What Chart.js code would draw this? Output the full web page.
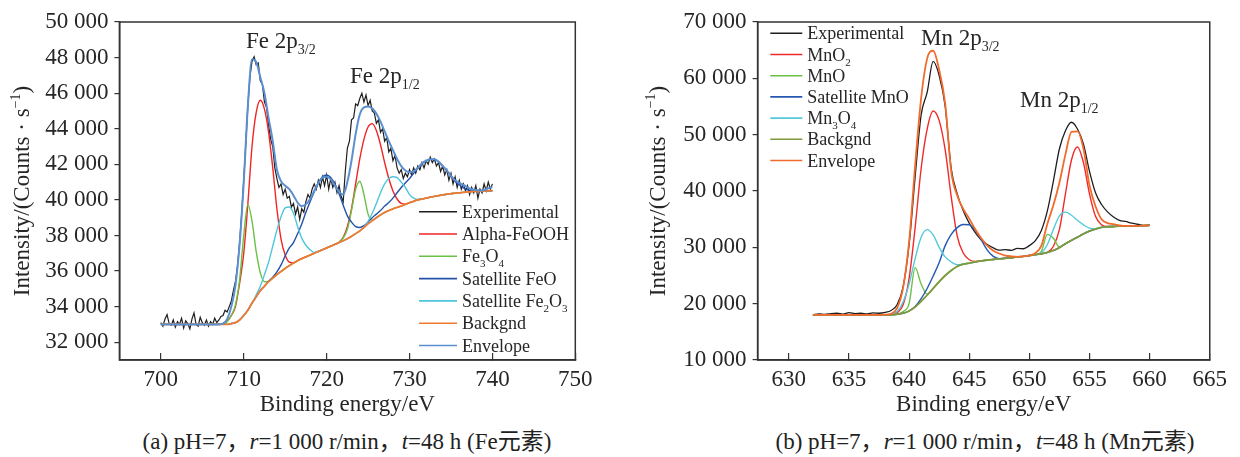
<!DOCTYPE html>
<html>
<head>
<meta charset="utf-8">
<script src="https://cdn.jsdelivr.net/npm/chart.js@4.4.0/dist/chart.umd.min.js"></script>
<style>
  html, body { margin: 0; padding: 0; background: #fff; }
  #wrap { position: relative; width: 1240px; height: 457px; overflow: hidden; }
  canvas { position: absolute; top: 0; }
  .cap { position: absolute; top: 428px; line-height: 27px; font-size: 23px; color: #222;
         font-family: "Liberation Serif", "Noto Sans CJK SC", serif; white-space: nowrap; transform: translateX(-50%); }
</style>
</head>
<body>
<div id="wrap">
  <canvas id="fe" width="620" height="420" style="left:0"></canvas>
  <canvas id="mn" width="620" height="420" style="left:620px"></canvas>
  <div class="cap" style="left:347px">(a) pH=7，<i>r</i>=1 000 r/min，<i>t</i>=48 h (Fe元素)</div>
  <div class="cap" style="left:985px">(b) pH=7，<i>r</i>=1 000 r/min，<i>t</i>=48 h (Mn元素)</div>
</div>
<script>
// ---------- Fe 2p (left) ----------
const feXTicks = [700, 710, 720, 730, 740, 750];
const feYTicks = [32000, 34000, 36000, 38000, 40000, 42000, 44000, 46000, 48000, 50000];

// fitted curves sampled every 0.5 eV from 700 to 740
const feBackgnd = [
  33000, 33000, 33000, 33000, 33000, 33000, 33000, 33000, 33000, 33000,
  33000, 33000, 33000, 33000, 33000, 33000, 33000, 33050, 33100, 33250,
  33500, 33800, 34200, 34550, 34900, 35150, 35400, 35600, 35800, 35980,
  36150, 36300, 36450, 36580, 36700, 36800, 36900, 37000, 37100, 37200,
  37300, 37400, 37500, 37600, 37700, 37820, 37950, 38100, 38250, 38450,
  38650, 38820, 39000, 39150, 39300, 39400, 39500, 39580, 39650, 39750,
  39850, 39920, 40000, 40050, 40100, 40150, 40200, 40240, 40280, 40320,
  40350, 40380, 40400, 40420, 40450, 40470, 40480, 40490, 40500, 40510,
  40520];
const feAlpha = [
  33000, 33000, 33000, 33000, 33000, 33000, 33000, 33000, 33000, 33000,
  33000, 33000, 33000, 33000, 33000, 33050, 33200, 33500, 34000, 35300,
  37000, 39800, 43000, 44900, 45600, 45100, 43800, 41800, 39500, 37800,
  36900, 36500, 36450, 36580, 36700, 36800, 36900, 37000, 37100, 37200,
  37300, 37400, 37500, 37620, 37900, 38500, 39500, 40900, 42300, 43400,
  44100, 44290, 43900, 43100, 42100, 41200, 40500, 40050, 39800, 39760,
  39850, 39920, 40000, 40050, 40100, 40150, 40200, 40240, 40280, 40320,
  40350, 40380, 40400, 40420, 40450, 40470, 40480, 40490, 40500, 40510,
  40520];
const feFe3O4 = [
  33000, 33000, 33000, 33000, 33000, 33000, 33000, 33000, 33000, 33000,
  33000, 33000, 33000, 33000, 33000, 33020, 33150, 33500, 34100, 35500,
  38000, 39750, 38800, 37100, 35900, 35400, 35420, 35600, 35800, 35980,
  36150, 36300, 36450, 36580, 36700, 36800, 36900, 37000, 37100, 37200,
  37300, 37400, 37500, 37620, 37850, 38350, 39400, 40600, 41050, 40300,
  39200, 38850, 39000, 39150, 39300, 39400, 39500, 39580, 39650, 39750,
  39850, 39920, 40000, 40050, 40100, 40150, 40200, 40240, 40280, 40320,
  40350, 40380, 40400, 40420, 40450, 40470, 40480, 40490, 40500, 40510,
  40520];
const feSatFeO = [
  33000, 33000, 33000, 33000, 33000, 33000, 33000, 33000, 33000, 33000,
  33000, 33000, 33000, 33000, 33000, 33000, 33000, 33050, 33100, 33250,
  33500, 33800, 34200, 34550, 34900, 35150, 35420, 35650, 35950, 36350,
  36850, 37300, 37600, 38100, 38650, 39300, 39900, 40450, 40950, 41300,
  41400, 41250, 40900, 40350, 39700, 39100, 38750, 38500, 38450, 38550,
  38750, 39000, 39200, 39400, 39650, 39850, 40100, 40400, 40700, 40950,
  41200, 41500, 41800, 42050, 42200, 42280, 42270, 42150, 41900, 41650,
  41350, 41050, 40850, 40680, 40570, 40510, 40490, 40490, 40500, 40510,
  40520];
const feSatFe2O3 = [
  33000, 33000, 33000, 33000, 33000, 33000, 33000, 33000, 33000, 33000,
  33000, 33000, 33000, 33000, 33000, 33000, 33000, 33050, 33100, 33250,
  33500, 33800, 34200, 34650, 35150, 35800, 36500, 37400, 38300, 39050,
  39550, 39600, 39250, 38500, 37850, 37450, 37200, 37050, 37100, 37200,
  37300, 37400, 37500, 37600, 37700, 37820, 37950, 38100, 38260, 38470,
  38800, 39250, 39800, 40400, 40900, 41200, 41300, 41250, 41000, 40700,
  40300, 40100, 40020, 40050, 40100, 40150, 40200, 40240, 40280, 40320,
  40350, 40380, 40400, 40420, 40450, 40470, 40480, 40490, 40500, 40510,
  40520];
const feEnvelope = [
  33000, 33000, 33000, 33000, 33000, 33000, 33000, 33000, 33000, 33000,
  33000, 33000, 33000, 33000, 33000, 33050, 33300, 34000, 35200, 37500,
  41000, 45300, 47900, 47750, 46900, 46000, 44600, 43300, 41700, 41050,
  40800, 40600, 40250, 39850, 39650, 39750, 40050, 40500, 40950, 41250,
  41300, 41150, 40800, 40450, 40300, 41000, 42200, 43700, 44800, 45200,
  45250, 45150, 44850, 44400, 43850, 43300, 42800, 42300, 41900, 41650,
  41550, 41600, 41800, 42050, 42200, 42280, 42280, 42150, 41900, 41650,
  41350, 41100, 40950, 40850, 40700, 40600, 40550, 40530, 40560, 40650,
  40730];
// measured spectrum, every 0.25 eV from 700 to 740
const feExperimental = [
  33100, 32900, 33300, 33550, 33050, 32950, 33250, 32850,
  33150, 33000, 33350, 32800, 33200, 33050, 32750, 33300,
  33650, 33000, 32900, 33400, 33100, 32950, 33250, 32900,
  33150, 33000, 33350, 33100, 33250, 33450, 33500, 33800,
  33700, 34000, 34300, 34900, 35400, 36300, 37600, 39200,
  41100, 43200, 45300, 46900, 47800, 48050, 47600, 47700,
  46700, 46500, 45500, 45200, 44200, 43400, 43000, 41800,
  41200, 40700, 40900, 40300, 40600, 40100, 40200, 39600,
  39800, 39200, 39600, 38900, 39500, 39300, 39900, 40300,
  40100, 40600, 40900, 40600, 41100, 40700, 41300, 40800,
  41400, 40600, 41200, 40700, 41000, 40400, 40800, 40200,
  39900, 41600, 42900, 43300, 44500, 44600, 45400, 45300,
  45700, 46000, 45500, 45900, 45300, 45600, 45000, 44900,
  44300, 44500, 43800, 44000, 43300, 43500, 42700, 42900,
  42200, 42500, 41800, 41500, 41700, 41200, 41500, 41300,
  41700, 41400, 41800, 41500, 41900, 41700, 42100, 41800,
  42200, 42000, 42400, 42100, 42300, 41900, 42100, 41600,
  41900, 41400, 41700, 41100, 41500, 40900, 41300, 40700,
  41100, 40600, 40900, 40500, 40800, 40300, 40700, 40400,
  40800, 40100, 40600, 40400, 40900, 40500, 41000, 40600,
  40900];

// ---------- Mn 2p (right) ----------
const mnXTicks = [630, 635, 640, 645, 650, 655, 660, 665];
const mnYTicks = [10000, 20000, 30000, 40000, 50000, 60000, 70000];

// every 0.5 eV from 632 to 660
const mnExperimental = [
  18000, 18200, 18100, 18250, 18300, 18150, 18400, 18250, 18300, 18200,
  18350, 18300, 18450, 18800, 19800, 23000, 30500, 42500, 53500, 57500,
  63000, 60500, 55000, 44000, 39500, 36500, 34300, 32600, 31300, 30500,
  29900, 29500, 29600, 29450, 29800, 29750, 30300, 31200, 33000, 36500,
  41800, 47500, 50700, 52200, 51000, 48300, 43500, 39700, 37600, 36300,
  35400, 34800, 34600, 34300, 34100, 33900, 34000];
const mnMnO2 = [
  18000, 18000, 18000, 18000, 18000, 18000, 18000, 18000, 18000, 18000,
  18000, 18000, 18000, 18050, 18400, 19800, 24500, 33500, 44000, 51000,
  54200, 52500, 47300, 39000, 32000, 29000, 27800, 27500, 27600, 27750,
  27850, 27950, 28050, 28150, 28300, 28400, 28550, 28700, 28850, 29100,
  30200, 33200, 39500, 45500, 47800, 45000, 39500, 35500, 34000, 33700,
  33700, 33750, 33780, 33800, 33820, 33850, 33900];
const mnMnO = [
  18000, 18000, 18000, 18000, 18000, 18000, 18000, 18000, 18000, 18000,
  18000, 18000, 18000, 18020, 18150, 18600, 20000, 26400, 23500, 21700,
  22700, 23900, 25000, 25900, 26600, 27000, 27200, 27400, 27600, 27750,
  27850, 27950, 28050, 28150, 28300, 28400, 28550, 28700, 29300, 32300,
  31600, 30050, 30650, 31250, 31800, 32400, 32900, 33250, 33550, 33650,
  33700, 33750, 33780, 33800, 33820, 33850, 33900];
const mnSatMnO = [
  18000, 18000, 18000, 18000, 18000, 18000, 18000, 18000, 18000, 18000,
  18000, 18000, 18000, 18020, 18100, 18300, 18700, 19500, 20900, 22700,
  24900, 27300, 30300, 32300, 33500, 34050, 34000, 33000, 31300, 29500,
  28400, 28000, 28050, 28150, 28300, 28400, 28550, 28700, 28850, 29100,
  29450, 29950, 30650, 31250, 31800, 32400, 32900, 33250, 33550, 33650,
  33700, 33750, 33780, 33800, 33820, 33850, 33900];
const mnMn3O4 = [
  18000, 18000, 18000, 18000, 18000, 18000, 18000, 18000, 18000, 18000,
  18000, 18000, 18050, 18200, 18600, 20300, 23500, 28000, 31800, 33150,
  32200, 30000, 28300, 27400, 26900, 27000, 27200, 27400, 27600, 27750,
  27850, 27950, 28050, 28150, 28300, 28400, 28550, 28700, 29000, 30500,
  33200, 35600, 36250, 35700, 34800, 34000, 33400, 33300, 33550, 33650,
  33700, 33750, 33780, 33800, 33820, 33850, 33900];
const mnBackgnd = [
  18000, 18000, 18000, 18000, 18000, 18000, 18000, 18000, 18000, 18000,
  18000, 18000, 18000, 18020, 18100, 18300, 18700, 19400, 20400, 21500,
  22700, 23900, 25000, 25900, 26600, 27000, 27200, 27400, 27600, 27750,
  27850, 27950, 28050, 28150, 28300, 28400, 28550, 28700, 28850, 29100,
  29450, 29950, 30650, 31250, 31800, 32400, 32900, 33250, 33550, 33650,
  33700, 33750, 33780, 33800, 33820, 33850, 33900];
const mnEnvelope = [
  18000, 18000, 18000, 18000, 18000, 18000, 18000, 18000, 18000, 18000,
  18000, 18000, 18050, 18200, 19200, 22800, 31000, 44500, 56500, 63500,
  64900, 61500, 55500, 43500, 39200, 36800, 35100, 33200, 31600, 30300,
  29400, 28900, 28550, 28400, 28320, 28400, 28550, 29000, 30300, 34200,
  37500, 41500, 46500, 50500, 50600, 47500, 41000, 37300, 35000, 34300,
  34100, 33900, 33800, 33800, 33820, 33850, 33900];

// ---------- helpers ----------
const FONT = '"Liberation Serif", "Times New Roman", serif';
const INK = '#262626';

function grid(start, end, step) {
  const out = [];
  for (let v = start; v <= end + 1e-9; v += step) out.push(Math.round(v * 100) / 100);
  return out;
}
const feEnergy = grid(700, 740, 0.5);
const feExpEnergy = grid(700, 740, 0.25);
const mnEnergy = grid(632, 660, 0.5);

const spaced = v => String(v).replace(/\B(?=(\d{3})+(?!\d))/g, ' ');

function drawRich(ctx, parts, x, y, size) {
  let cx = x;
  parts.forEach(([t, mode]) => {
    const s = mode ? Math.round(size * 0.62) : size;
    ctx.font = s + 'px ' + FONT;
    const dy = mode === 'sub' ? size * 0.28 : mode === 'sup' ? -size * 0.4 : 0;
    ctx.fillText(t, cx, y + dy);
    cx += ctx.measureText(t).width;
  });
  return cx - x;
}
function richWidth(ctx, parts, size) {
  let w = 0;
  parts.forEach(([t, mode]) => {
    ctx.font = (mode ? Math.round(size * 0.62) : size) + 'px ' + FONT;
    w += ctx.measureText(t).width;
  });
  return w;
}

function decor(cfg) {
  return {
    id: 'decor',
    afterDraw(chart) {
      const { ctx, chartArea: a } = chart;
      ctx.save();
      ctx.strokeStyle = '#333';
      ctx.lineWidth = 1.5;
      ctx.strokeRect(a.left, a.top, a.right - a.left, a.bottom - a.top);

      ctx.fillStyle = INK;
      ctx.textAlign = 'left';
      ctx.textBaseline = 'alphabetic';

      // y axis title
      const yt = [['Intensity/(Counts \u00b7 s', ''], ['\u22121', 'sup'], [')', '']];
      ctx.save();
      ctx.translate(cfg.yTitleX, (a.top + a.bottom) / 2);
      ctx.rotate(-Math.PI / 2);
      drawRich(ctx, yt, -richWidth(ctx, yt, 23) / 2, 8, 23);
      ctx.restore();

      // peak labels
      cfg.peaks.forEach(p => drawRich(ctx, p.parts, p.x, p.y, 23));

      // legend
      cfg.series.forEach((s, i) => {
        const y = cfg.legend.y + i * cfg.legend.gap;
        ctx.strokeStyle = s.color;
        ctx.lineWidth = 1.6;
        ctx.beginPath();
        ctx.moveTo(cfg.legend.x, y);
        ctx.lineTo(cfg.legend.x + cfg.legend.len, y);
        ctx.stroke();
        ctx.fillStyle = INK;
        drawRich(ctx, s.parts, cfg.legend.x + cfg.legend.len + 5, y + 6, 18);
      });
      ctx.restore();
    }
  };
}

function makeChart(id, cfg) {
  const datasets = cfg.series.map((s, i) => ({
    label: s.label,
    data: s.values.map((v, k) => ({ x: s.xs[k], y: v })),
    borderColor: s.color,
    borderWidth: s.width,
    pointRadius: 0,
    fill: false,
    tension: 0,
    cubicInterpolationMode: s.smooth ? 'monotone' : 'default',
    order: s.order
  }));
  const tickFont = { family: FONT, size: 23 };
  return new Chart(document.getElementById(id), {
    type: 'line',
    data: { datasets },
    options: {
      responsive: false,
      devicePixelRatio: 1,
      animation: false,
      layout: { padding: { left: 0, right: cfg.padRight, top: 22, bottom: 0 } },
      plugins: { legend: { display: false }, tooltip: { enabled: false } },
      scales: {
        x: {
          type: 'linear', min: cfg.xMin, max: cfg.xMax,
          afterBuildTicks: s => { s.ticks = cfg.xTicks.map(v => ({ value: v })); },
          afterFit: s => { s.height = 60; },
          ticks: { font: tickFont, color: INK, padding: 13, autoSkip: false, maxRotation: 0 },
          grid: { drawOnChartArea: false, tickLength: -7, color: '#333', lineWidth: 1.2 },
          border: { color: '#333', width: 1.5 },
          title: { display: true, text: 'Binding energy/eV', font: tickFont, color: INK, padding: { top: 0, bottom: 1 } }
        },
        y: {
          type: 'linear', min: cfg.yMin, max: cfg.yMax,
          afterBuildTicks: s => { s.ticks = cfg.yTicks.map(v => ({ value: v })); },
          afterFit: s => { s.width = cfg.areaLeft; },
          ticks: { font: tickFont, color: INK, padding: 6, autoSkip: false, callback: spaced },
          grid: { drawOnChartArea: false, tickLength: 5, color: '#333', lineWidth: 1.2 },
          border: { color: '#333', width: 1.5 }
        }
      }
    },
    plugins: [decor(cfg)]
  });
}

makeChart('fe', {
  xMin: 695, xMax: 750, yMin: 31000, yMax: 50000,
  xTicks: feXTicks, yTicks: feYTicks,
  areaLeft: 119.4, padRight: 44.7, yTitleX: 21,
  peaks: [
    { x: 246, y: 48, parts: [['Fe 2p', ''], ['3/2', 'sub']] },
    { x: 350, y: 83, parts: [['Fe 2p', ''], ['1/2', 'sub']] }
  ],
  legend: { x: 419, len: 38, y: 211.7, gap: 22.3 },
  series: [
    { label: 'Experimental', parts: [['Experimental', '']], xs: feExpEnergy, values: feExperimental, color: '#1e1e1e', width: 1.2, order: 9, smooth: false },
    { label: 'Alpha-FeOOH', parts: [['Alpha-FeOOH', '']], xs: feEnergy, values: feAlpha, color: '#f22424', width: 1.4, order: 5, smooth: true },
    { label: 'Fe3O4', parts: [['Fe', ''], ['3', 'sub'], ['O', ''], ['4', 'sub']], xs: feEnergy, values: feFe3O4, color: '#6cc046', width: 1.4, order: 4, smooth: true },
    { label: 'Satellite FeO', parts: [['Satellite FeO', '']], xs: feEnergy, values: feSatFeO, color: '#2452a8', width: 1.4, order: 3, smooth: true },
    { label: 'Satellite Fe2O3', parts: [['Satellite Fe', ''], ['2', 'sub'], ['O', ''], ['3', 'sub']], xs: feEnergy, values: feSatFe2O3, color: '#4ec6da', width: 1.4, order: 2, smooth: true },
    { label: 'Backgnd', parts: [['Backgnd', '']], xs: feEnergy, values: feBackgnd, color: '#f07a32', width: 1.8, order: 1, smooth: true },
    { label: 'Envelope', parts: [['Envelope', '']], xs: feEnergy, values: feEnvelope, color: '#5b8fcf', width: 2, order: 0, smooth: true }
  ]
});

makeChart('mn', {
  xMin: 627.4, xMax: 665, yMin: 10000, yMax: 70000,
  xTicks: mnXTicks, yTicks: mnYTicks,
  areaLeft: 137.6, padRight: 26.9, yTitleX: 36.6,
  peaks: [
    { x: 301, y: 45, parts: [['Mn 2p', ''], ['3/2', 'sub']] },
    { x: 400, y: 107, parts: [['Mn 2p', ''], ['1/2', 'sub']] }
  ],
  legend: { x: 150.3, len: 32, y: 33.3, gap: 21.2 },
  series: [
    { label: 'Experimental', parts: [['Experimental', '']], xs: mnEnergy, values: mnExperimental, color: '#1e1e1e', width: 1.3, order: 9, smooth: true },
    { label: 'MnO2', parts: [['MnO', ''], ['2', 'sub']], xs: mnEnergy, values: mnMnO2, color: '#f02a2a', width: 1.4, order: 5, smooth: true },
    { label: 'MnO', parts: [['MnO', '']], xs: mnEnergy, values: mnMnO, color: '#6cc046', width: 1.4, order: 4, smooth: true },
    { label: 'Satellite MnO', parts: [['Satellite MnO', '']], xs: mnEnergy, values: mnSatMnO, color: '#2458b2', width: 1.4, order: 3, smooth: true },
    { label: 'Mn3O4', parts: [['Mn', ''], ['3', 'sub'], ['O', ''], ['4', 'sub']], xs: mnEnergy, values: mnMn3O4, color: '#55c8da', width: 1.4, order: 2, smooth: true },
    { label: 'Backgnd', parts: [['Backgnd', '']], xs: mnEnergy, values: mnBackgnd, color: '#7f9a3c', width: 1.8, order: 1, smooth: true },
    { label: 'Envelope', parts: [['Envelope', '']], xs: mnEnergy, values: mnEnvelope, color: '#f26a2c', width: 1.8, order: 0, smooth: true }
  ]
});
</script>
</body>
</html>
